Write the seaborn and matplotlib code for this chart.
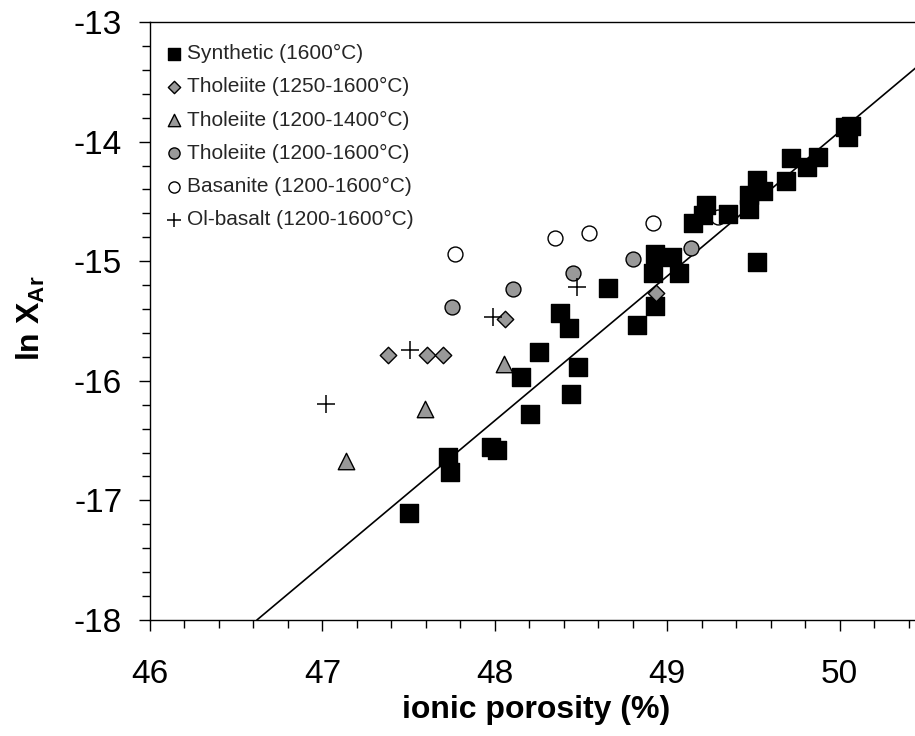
import matplotlib
matplotlib.use("Agg")
import matplotlib.pyplot as plt
import seaborn as sns
import numpy as np
import pandas as pd
from matplotlib.ticker import MultipleLocator

# ---- data ----
synthetic_x = [47.504, 47.730, 47.740, 47.975, 48.015, 48.204, 48.152, 48.258, 48.378,
               48.432, 48.481, 48.442, 48.659, 48.823, 48.929, 48.920, 48.929, 49.026,
               49.070, 49.519, 49.148, 49.206, 49.225, 49.355, 49.476, 49.476, 49.523,
               49.558, 49.689, 49.716, 49.813, 49.877, 50.031, 50.065, 50.051]
synthetic_y = [-17.103, -16.640, -16.760, -16.555, -16.575, -16.280, -15.968, -15.757, -15.430,
               -15.561, -15.887, -16.110, -15.227, -15.533, -15.375, -15.101, -14.940, -14.967,
               -15.101, -15.009, -14.683, -14.614, -14.530, -14.605, -14.566, -14.446, -14.321,
               -14.410, -14.327, -14.140, -14.210, -14.126, -13.875, -13.870, -13.959]

thol1_x = [47.379, 47.605, 47.701, 48.059, 48.935]
thol1_y = [-15.784, -15.784, -15.784, -15.483, -15.263]

thol2_x = [47.135, 47.595, 48.055]
thol2_y = [-16.668, -16.238, -15.862]

thol3_x = [47.750, 48.104, 48.454, 48.800, 49.136]
thol3_y = [-15.386, -15.235, -15.101, -14.982, -14.887]

basan_x = [47.769, 48.349, 48.546, 48.920, 49.296]
basan_y = [-14.940, -14.803, -14.767, -14.683, -14.628]

olbas_x = [47.021, 47.508, 47.991, 48.475]
olbas_y = [-16.197, -15.742, -15.464, -15.218]

fit_x = [46.62, 50.44]
fit_y = [-18.0, -13.385]

labels = ["Synthetic (1600°C)", "Tholeiite (1250-1600°C)", "Tholeiite (1200-1400°C)",
          "Tholeiite (1200-1600°C)", "Basanite (1200-1600°C)", "Ol-basalt (1200-1600°C)"]

xticks = [46, 47, 48, 49, 50]
yticks = [-13, -14, -15, -16, -17, -18]

# ---- style ----
sns.set_theme(style="white")
plt.rcParams['font.family'] = ['Liberation Sans', 'DejaVu Sans']
plt.rcParams['axes.unicode_minus'] = False
plt.rcParams['mathtext.fontset'] = 'custom'
plt.rcParams['mathtext.rm'] = 'Liberation Sans'
plt.rcParams['mathtext.bf'] = 'Liberation Sans:bold'

fig = plt.figure(figsize=(9.15, 7.36), dpi=100)
ax = fig.add_axes([150/915, 116/736, 765/915, 598/736])

GRAY = "#999999"

sns.lineplot(x=fit_x, y=fit_y, ax=ax, color="black", linewidth=1.2, zorder=1)

sns.scatterplot(x=basan_x, y=basan_y, ax=ax, marker="o", s=115, color="white",
                edgecolor="black", linewidth=1.0, zorder=2, label=labels[4])
sns.scatterplot(x=synthetic_x, y=synthetic_y, ax=ax, marker="s", s=150, color="black",
                edgecolor="black", linewidth=1.0, zorder=3, label=labels[0])
sns.scatterplot(x=thol1_x, y=thol1_y, ax=ax, marker="D", s=70, color=GRAY,
                edgecolor="black", linewidth=1.0, zorder=4, label=labels[1])
sns.scatterplot(x=thol2_x, y=thol2_y, ax=ax, marker="^", s=140, color=GRAY,
                edgecolor="black", linewidth=1.0, zorder=4, label=labels[2])
sns.scatterplot(x=thol3_x, y=thol3_y, ax=ax, marker="o", s=115, color=GRAY,
                edgecolor="black", linewidth=1.0, zorder=4, label=labels[3])
sns.scatterplot(x=olbas_x, y=olbas_y, ax=ax, marker="+", s=160, color="black",
                linewidth=1.1, zorder=4, label=labels[5])

ax.set_xlim(46, 50.437)
ax.set_ylim(-18, -13)
ax.set_xticks(xticks)
ax.set_yticks(yticks)
ax.xaxis.set_minor_locator(MultipleLocator(0.2))
ax.yaxis.set_minor_locator(MultipleLocator(0.2))

for side in ["left", "bottom", "top"]:
    ax.spines[side].set_visible(True)
    ax.spines[side].set_color("black")
    ax.spines[side].set_linewidth(1.0)
ax.spines["right"].set_visible(False)

ax.tick_params(axis="both", which="major", direction="out", length=8, width=1,
               color="black", labelsize=24, labelcolor="black",
               bottom=True, left=True, top=False, right=False)
ax.tick_params(axis="both", which="minor", direction="out", length=5.5, width=1,
               color="black", bottom=True, left=True, top=False, right=False)
ax.tick_params(axis="x", which="major", pad=20)
ax.tick_params(axis="y", which="major", pad=12)

ax.set_xlabel("ionic porosity (%)", fontsize=23, fontweight="bold", color="black")
ax.set_ylabel(r"ln X$_{\mathbf{Ar}}$", fontsize=23, fontweight="bold", color="black")
ax.xaxis.set_label_coords(0.505, -0.125)
ax.yaxis.set_label_coords(-0.135, 0.505)

handles, labs = ax.get_legend_handles_labels()
order = [labs.index(l) for l in labels]
leg = ax.legend([handles[i] for i in order], [labs[i] for i in order],
                loc="upper left", bbox_to_anchor=(0.02, 0.963), frameon=False,
                fontsize=15, markerscale=0.75, handlelength=0.8, handletextpad=0.25,
                labelspacing=0.68, borderpad=0, borderaxespad=0)

fig.savefig("out.png", dpi=100)
